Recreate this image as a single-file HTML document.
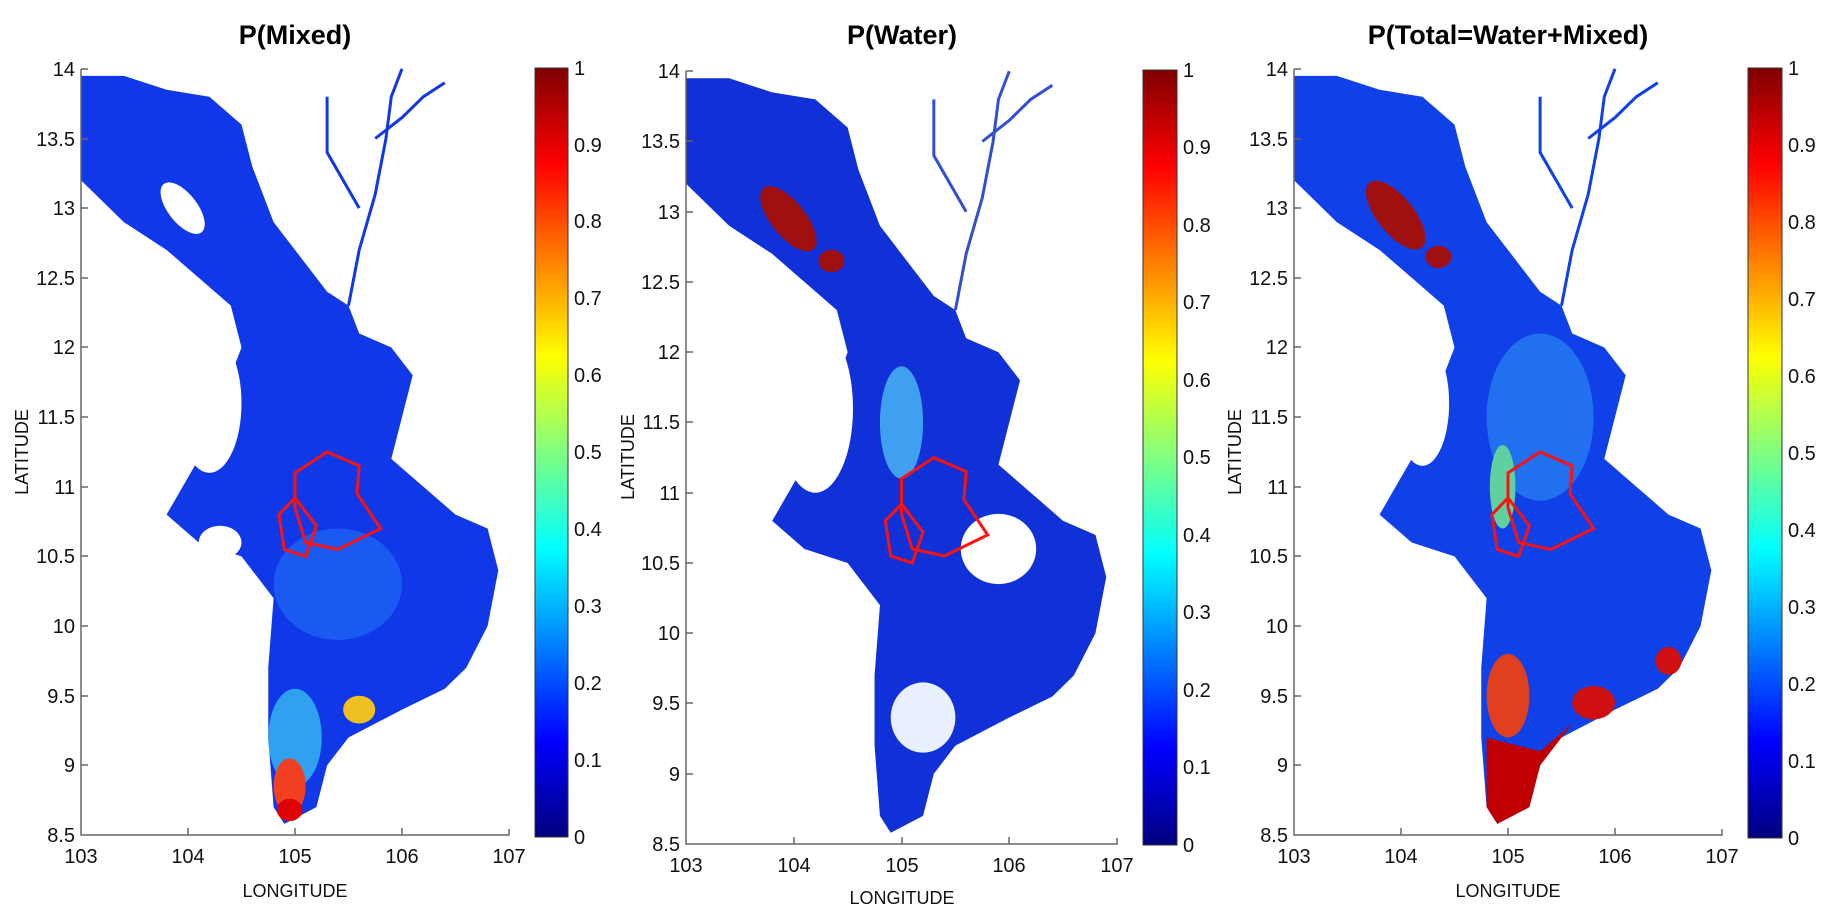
<!DOCTYPE html>
<html><head><meta charset="utf-8"><style>
html,body{margin:0;padding:0;background:#fff}
svg{display:block;font-family:"Liberation Sans",sans-serif}
</style></head><body>
<svg width="1827" height="914" viewBox="0 0 1827 914" xmlns="http://www.w3.org/2000/svg">
<defs>
<linearGradient id="jet" x1="0" y1="1" x2="0" y2="0">
<stop offset="0" stop-color="#000080"/><stop offset="0.125" stop-color="#0000ff"/>
<stop offset="0.375" stop-color="#00ffff"/><stop offset="0.625" stop-color="#ffff00"/>
<stop offset="0.875" stop-color="#ff0000"/><stop offset="1" stop-color="#800000"/>
</linearGradient>
<polygon id="delta" points="103.0,13.95 103.4,13.95 103.8,13.85 104.2,13.8 104.5,13.6 104.6,13.3 104.8,12.9 105.1,12.6 105.3,12.4 105.5,12.3 105.6,12.1 105.9,12.0 106.1,11.8 106.0,11.5 105.9,11.2 106.2,11.0 106.5,10.8 106.8,10.7 106.9,10.4 106.8,10.0 106.6,9.7 106.4,9.55 106.0,9.4 105.5,9.2 105.3,9.0 105.2,8.7 104.9,8.58 104.8,8.7 104.75,9.2 104.75,9.7 104.8,10.2 104.5,10.5 104.1,10.6 103.8,10.8 104.1,11.2 104.3,11.6 104.5,12.0 104.4,12.3 104.1,12.5 103.8,12.7 103.4,12.9 103.0,13.2"/>
<g id="rivers" fill="none" stroke-width="3">
<polyline vector-effect="non-scaling-stroke" points="105.5,12.3 105.6,12.7 105.75,13.1 105.85,13.5 105.9,13.8 106.0,14.0"/>
<polyline vector-effect="non-scaling-stroke" points="105.75,13.5 106.0,13.65 106.2,13.8 106.4,13.9"/>
<polyline vector-effect="non-scaling-stroke" points="105.6,13.0 105.3,13.4 105.3,13.8"/>
</g>
<g id="zones" fill="none" stroke="#ff1010" stroke-width="3">
<polygon vector-effect="non-scaling-stroke" points="105.0,11.1 105.3,11.25 105.6,11.15 105.58,10.95 105.8,10.7 105.4,10.55 105.1,10.6 105.0,10.85"/>
<polygon vector-effect="non-scaling-stroke" points="104.85,10.8 105.0,10.92 105.2,10.72 105.1,10.5 104.9,10.55"/>
</g>
</defs>

<g font-weight="bold" font-size="27" text-anchor="middle">
<text x="295" y="44">P(Mixed)</text>
<text x="902" y="44">P(Water)</text>
<text x="1508" y="44">P(Total=Water+Mixed)</text>
</g>

<!-- PANEL 1 -->
<g transform="translate(81,835) scale(107,-139.3) translate(-103,-8.5)">
<use href="#delta" fill="#1038e8"/>
<use href="#rivers" stroke="#1038e8"/>
<ellipse cx="105.4" cy="10.3" rx="0.6" ry="0.4" fill="#1a5af0"/>
<ellipse cx="105.0" cy="9.2" rx="0.25" ry="0.35" fill="#30a0f0"/>
<ellipse cx="104.95" cy="8.85" rx="0.15" ry="0.2" fill="#f04020"/>
<ellipse cx="104.95" cy="8.68" rx="0.12" ry="0.08" fill="#e00000"/>
<ellipse cx="105.6" cy="9.4" rx="0.15" ry="0.1" fill="#f0c020"/>
<ellipse cx="103.95" cy="13.0" rx="0.25" ry="0.12" transform="rotate(-40 103.95 13.0)" fill="#fff"/>
<ellipse cx="104.3" cy="10.6" rx="0.2" ry="0.12" fill="#fff"/>
<ellipse cx="104.2" cy="11.6" rx="0.3" ry="0.5" fill="#fff"/>
<use href="#zones"/>
</g>
<!-- PANEL 2 -->
<g transform="translate(686,844) scale(107.75,-140.5) translate(-103,-8.5)">
<use href="#delta" fill="#1030d8"/>
<use href="#rivers" stroke="#3050d0"/>
<ellipse cx="104.2" cy="11.6" rx="0.35" ry="0.6" fill="#fff"/>
<ellipse cx="105.9" cy="10.6" rx="0.35" ry="0.25" fill="#fff"/>
<ellipse cx="104.3" cy="10.0" rx="0.2" ry="0.3" fill="#fff"/>
<ellipse cx="105.2" cy="9.4" rx="0.3" ry="0.25" fill="#e8f0ff"/>
<ellipse cx="105.0" cy="11.5" rx="0.2" ry="0.4" fill="#40a0f0"/>
<ellipse cx="103.95" cy="12.95" rx="0.32" ry="0.14" transform="rotate(-40 103.95 12.95)" fill="#a01010"/>
<ellipse cx="104.35" cy="12.65" rx="0.12" ry="0.08" fill="#a01010"/>
<use href="#zones"/>
</g>
<!-- PANEL 3 -->
<g transform="translate(1294,835) scale(107,-139.3) translate(-103,-8.5)">
<use href="#delta" fill="#1040e8"/>
<use href="#rivers" stroke="#1040e8"/>
<ellipse cx="105.3" cy="11.5" rx="0.5" ry="0.6" fill="#2070f0"/>
<ellipse cx="104.2" cy="11.6" rx="0.25" ry="0.45" fill="#fff"/>
<ellipse cx="104.95" cy="11.0" rx="0.12" ry="0.3" fill="#60d0a0"/>
<ellipse cx="103.95" cy="12.95" rx="0.34" ry="0.15" transform="rotate(-40 103.95 12.95)" fill="#a01010"/>
<ellipse cx="104.35" cy="12.65" rx="0.12" ry="0.08" fill="#a01010"/>
<ellipse cx="105.0" cy="9.5" rx="0.2" ry="0.3" fill="#e04020"/>
<polygon points="104.8,9.2 105.3,9.1 105.6,9.3 105.3,9.0 105.2,8.7 104.9,8.58 104.8,8.7" fill="#c00000"/>
<ellipse cx="105.8" cy="9.45" rx="0.2" ry="0.12" fill="#d01010"/>
<ellipse cx="106.5" cy="9.75" rx="0.12" ry="0.1" fill="#d01010"/>
<use href="#zones"/>
</g>

<g fill="none" stroke="#666" stroke-width="1.5">
<polyline points="81,69 81,835 509,835 509,829"/>
<polyline points="686,71 686,844 1117,844 1117,838"/>
<polyline points="1294,69 1294,835 1722,835 1722,829"/>
<path d="M188,835v-7M295,835v-7M402,835v-7M81,765h7M81,696h7M81,626h7M81,556h7M81,487h7M81,417h7M81,347h7M81,278h7M81,208h7M81,139h7M81,69h7"/>
<path d="M794,844v-7M902,844v-7M1009,844v-7M686,774h7M686,703h7M686,633h7M686,563h7M686,493h7M686,422h7M686,352h7M686,282h7M686,212h7M686,141h7M686,71h7"/>
<path d="M1401,835v-7M1508,835v-7M1615,835v-7M1294,765h7M1294,696h7M1294,626h7M1294,556h7M1294,487h7M1294,417h7M1294,347h7M1294,278h7M1294,208h7M1294,139h7M1294,69h7"/>
</g>

<g font-size="20" fill="#111">
<g text-anchor="middle">
<text x="81" y="863">103</text><text x="188" y="863">104</text><text x="295" y="863">105</text><text x="402" y="863">106</text><text x="509" y="863">107</text>
<text x="295" y="897" font-size="18">LONGITUDE</text>
<text x="686" y="872">103</text><text x="794" y="872">104</text><text x="902" y="872">105</text><text x="1009" y="872">106</text><text x="1117" y="872">107</text>
<text x="902" y="904" font-size="18">LONGITUDE</text>
<text x="1294" y="863">103</text><text x="1401" y="863">104</text><text x="1508" y="863">105</text><text x="1615" y="863">106</text><text x="1722" y="863">107</text>
<text x="1508" y="897" font-size="18">LONGITUDE</text>
</g>
<g text-anchor="end">
<text x="75" y="842">8.5</text><text x="75" y="772">9</text><text x="75" y="703">9.5</text><text x="75" y="633">10</text><text x="75" y="563">10.5</text><text x="75" y="494">11</text><text x="75" y="424">11.5</text><text x="75" y="354">12</text><text x="75" y="285">12.5</text><text x="75" y="215">13</text><text x="75" y="146">13.5</text><text x="75" y="76">14</text>
<text x="680" y="851">8.5</text><text x="680" y="781">9</text><text x="680" y="710">9.5</text><text x="680" y="640">10</text><text x="680" y="570">10.5</text><text x="680" y="500">11</text><text x="680" y="429">11.5</text><text x="680" y="359">12</text><text x="680" y="289">12.5</text><text x="680" y="219">13</text><text x="680" y="148">13.5</text><text x="680" y="78">14</text>
<text x="1288" y="842">8.5</text><text x="1288" y="772">9</text><text x="1288" y="703">9.5</text><text x="1288" y="633">10</text><text x="1288" y="563">10.5</text><text x="1288" y="494">11</text><text x="1288" y="424">11.5</text><text x="1288" y="354">12</text><text x="1288" y="285">12.5</text><text x="1288" y="215">13</text><text x="1288" y="146">13.5</text><text x="1288" y="76">14</text>
</g>
<g font-size="18" text-anchor="middle">
<text transform="translate(28,452) rotate(-90)">LATITUDE</text>
<text transform="translate(634,457) rotate(-90)">LATITUDE</text>
<text transform="translate(1241,452) rotate(-90)">LATITUDE</text>
</g>
<rect x="535" y="68" width="33" height="769" fill="url(#jet)" stroke="#333"/>
<rect x="1143" y="70" width="34" height="775" fill="url(#jet)" stroke="#333"/>
<rect x="1748" y="68" width="34" height="770" fill="url(#jet)" stroke="#333"/>
<g>
<text x="574" y="844">0</text><text x="574" y="767">0.1</text><text x="574" y="690">0.2</text><text x="574" y="613">0.3</text><text x="574" y="536">0.4</text><text x="574" y="459">0.5</text><text x="574" y="382">0.6</text><text x="574" y="305">0.7</text><text x="574" y="228">0.8</text><text x="574" y="152">0.9</text><text x="574" y="75">1</text>
<text x="1183" y="852">0</text><text x="1183" y="774">0.1</text><text x="1183" y="697">0.2</text><text x="1183" y="619">0.3</text><text x="1183" y="542">0.4</text><text x="1183" y="464">0.5</text><text x="1183" y="387">0.6</text><text x="1183" y="309">0.7</text><text x="1183" y="232">0.8</text><text x="1183" y="154">0.9</text><text x="1183" y="77">1</text>
<text x="1788" y="845">0</text><text x="1788" y="768">0.1</text><text x="1788" y="691">0.2</text><text x="1788" y="614">0.3</text><text x="1788" y="537">0.4</text><text x="1788" y="460">0.5</text><text x="1788" y="383">0.6</text><text x="1788" y="306">0.7</text><text x="1788" y="229">0.8</text><text x="1788" y="152">0.9</text><text x="1788" y="75">1</text>
</g>
</g>
</svg>
</body></html>
